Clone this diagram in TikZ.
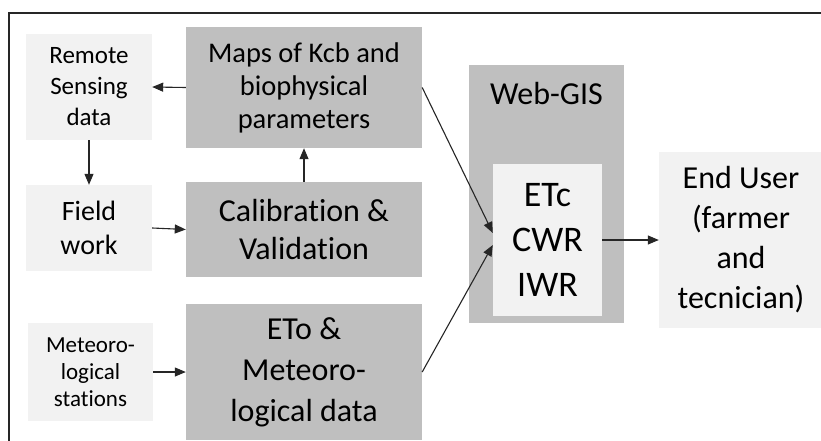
\documentclass[tikz,border=0pt]{standalone}
\usepackage{fontspec}
\setmainfont{Carlito}[Ligatures={NoCommon}]
\usetikzlibrary{arrows.meta,calc}
\definecolor{boxdark}{HTML}{BFBFBF}
\definecolor{boxlight}{HTML}{F2F2F2}
\definecolor{lineink}{HTML}{262626}
\newcommand{\fs}[2]{\fontsize{#1}{#2}\selectfont}
\tikzset{
  blk/.style={inner sep=0pt, align=center, text=black},
  darkbox/.style={blk, fill=boxdark},
  lightbox/.style={blk, fill=boxlight},
  arr/.style={draw=lineink, line width=1.1pt, -{Triangle[length=11pt,width=9pt]}},
}
\begin{document}
\begin{tikzpicture}[x=1pt,y=-1pt]
\useasboundingbox (0,0) rectangle (821,441);
% outer frame (top and left edges)
\draw[line width=1.6pt, black!85] (9,441) -- (9,13) -- (821,13);

% left column: data sources
\node[lightbox, minimum width=126pt, minimum height=106pt, font=\fs{25}{31}]
  (rs) at (89,87) {Remote\\Sensing\\data};
\node[lightbox, minimum width=126pt, minimum height=86pt, font=\fs{28}{34}]
  (fw) at (89,228) {Field\\work};
\node[lightbox, minimum width=125pt, minimum height=98pt, font=\fs{23}{27}]
  (met) at (90.5,372) {Meteoro-\\logical\\stations};

% middle column: processing
\node[darkbox, minimum width=236pt, minimum height=121pt, font=\fs{28.5}{33}]
  (maps) at (304,87.5) {Maps of Kcb and\\biophysical\\parameters};
\node[darkbox, minimum width=236pt, minimum height=95pt, font=\fs{32}{38}]
  (cal) at (304,229.5) {Calibration \&\\Validation};
\node[darkbox, minimum width=236pt, minimum height=136pt, font=\fs{32}{41}]
  (eto) at (304,372) {ETo \&\\Meteoro-\\logical data};

% Web-GIS platform
\node[darkbox, minimum width=155pt, minimum height=258pt]
  (web) at (546.5,194) {};
\node[blk, font=\fs{32}{38}] (webt) at (546.5,94) {Web-GIS};
\node[lightbox, minimum width=109pt, minimum height=152pt, font=\fs{36}{45}]
  (etc) at (547.5,240) {ETc\\CWR\\IWR};

% end user
\node[lightbox, minimum width=164pt, minimum height=176pt, font=\fs{32}{40}]
  (eu) at (741,240) {End User\\(farmer\\and\\tecnician)};

% connectors
\coordinate (inA) at ($(etc.west)+(0,-7)$);
\coordinate (inB) at ($(etc.west)+(0,5)$);
\draw[arr] (maps.west) -- (rs.east);
\draw[arr] (rs.south) -- (fw.north);
\draw[arr] (fw.east) -- (cal.west);
\draw[arr] (cal.north) -- (maps.south);
\draw[arr] (met.east) -- (eto.west);
\draw[arr] (maps.east) -- (inA);
\draw[arr] (eto.east) -- (inB);
\draw[arr] (etc.east) -- (eu.west);
\end{tikzpicture}
\end{document}
